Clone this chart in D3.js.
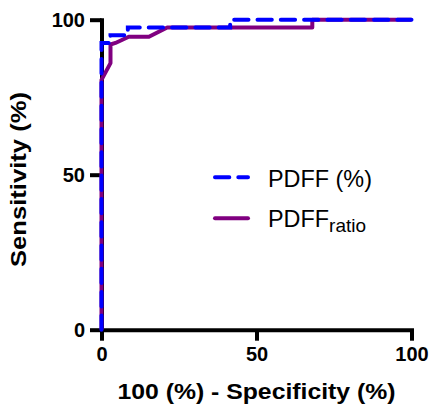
<!DOCTYPE html>
<html>
<head>
<meta charset="utf-8">
<script src="https://cdn.jsdelivr.net/npm/d3@7"></script>
<style>
  body { margin: 0; background: #fff; }
  svg { display: block; }
</style>
</head>
<body>
<script>
// ROC points: x = 100 - specificity, y = sensitivity
let pdffX = [0, 0, 2.9, 2.9, 8.5, 8.5, 41.5, 41.5, 100];
let pdffY = [0, 92.5, 92.5, 95, 95, 97.5, 97.5, 100, 100];
let ratioX = [0, 0, 2.9, 2.9, 4.5, 8.8, 15.3, 21.2, 68, 68, 100];
let ratioY = [0, 80.6, 86, 92, 92.5, 94.5, 94.5, 97.5, 97.5, 100, 100];
let ticks = [0, 50, 100];

let w = 432, h = 408;
let blue = "#0000ff", purple = "#800080";

let svg = d3.select("body").append("svg")
    .attr("width", w)
    .attr("height", h);

// scales
let x = d3.scaleLinear().domain([0, 100]).range([101.5, 411.5]);
let y = d3.scaleLinear().domain([0, 100]).range([329.7, 19.7]);

// axes
let xAxis = svg.append("g")
    .attr("transform", "translate(0," + y(0) + ")")
    .call(d3.axisBottom(x).tickValues(ticks).tickSize(11).tickSizeOuter(0).tickPadding(6));
let yAxis = svg.append("g")
    .attr("transform", "translate(" + x(0) + ",0)")
    .call(d3.axisLeft(y).tickValues(ticks).tickSize(11.5).tickSizeOuter(0).tickPadding(5));

[xAxis, yAxis].forEach(function (g) {
    g.select(".domain").attr("stroke", "#000").attr("stroke-width", 4).attr("stroke-linecap", "square");
    g.selectAll(".tick line").attr("stroke", "#000").attr("stroke-width", 4);
    g.selectAll(".tick text")
        .attr("fill", "#000")
        .style("font-family", "'Liberation Sans', Arial, sans-serif")
        .style("font-weight", "bold")
        .style("font-size", "20px");
});

// axis titles
svg.append("text")
    .attr("x", (x(0) + x(100)) / 2)
    .attr("y", 399)
    .attr("text-anchor", "middle")
    .attr("textLength", 278)
    .attr("lengthAdjust", "spacingAndGlyphs")
    .style("font-family", "'Liberation Sans', Arial, sans-serif")
    .style("font-weight", "bold")
    .style("font-size", "22px")
    .text("100 (%) - Specificity (%)");

svg.append("text")
    .attr("transform", "translate(26,179.5) rotate(-90)")
    .attr("text-anchor", "middle")
    .attr("textLength", 175)
    .attr("lengthAdjust", "spacingAndGlyphs")
    .style("font-family", "'Liberation Sans', Arial, sans-serif")
    .style("font-weight", "bold")
    .style("font-size", "22px")
    .text("Sensitivity (%)");

// lines
let line = d3.line()
    .x(function (d) { return x(d[0]); })
    .y(function (d) { return y(d[1]); });

svg.append("path")
    .datum(ratioX.map(function (v, i) { return [v, ratioY[i]]; }))
    .attr("d", line)
    .attr("fill", "none")
    .attr("stroke", purple)
    .attr("stroke-width", 4)
    .attr("stroke-linejoin", "round");

svg.append("path")
    .datum(pdffX.map(function (v, i) { return [v, pdffY[i]]; }))
    .attr("d", line)
    .attr("fill", "none")
    .attr("stroke", blue)
    .attr("stroke-width", 4)
    .attr("stroke-dasharray", "14.3,9")
    .attr("stroke-linecap", "round");

// legend
let legend = svg.append("g");
legend.append("line")
    .attr("x1", 215).attr("x2", 248)
    .attr("y1", 177.3).attr("y2", 177.3)
    .attr("stroke", blue).attr("stroke-width", 4)
    .attr("stroke-dasharray", "14.3,9").attr("stroke-linecap", "round");
legend.append("line")
    .attr("x1", 215).attr("x2", 248)
    .attr("y1", 218.3).attr("y2", 218.3)
    .attr("stroke", purple).attr("stroke-width", 4)
    .attr("stroke-linecap", "round");

legend.append("text")
    .attr("x", 268).attr("y", 187)
    .style("font-family", "'Liberation Sans', Arial, sans-serif")
    .style("font-size", "23.4px")
    .text("PDFF (%)");

let t2 = legend.append("text")
    .attr("x", 268).attr("y", 227)
    .style("font-family", "'Liberation Sans', Arial, sans-serif")
    .style("font-size", "23.4px");
t2.append("tspan").text("PDFF");
t2.append("tspan").attr("dy", 5).style("font-size", "19px").text("ratio");
</script>
</body>
</html>
